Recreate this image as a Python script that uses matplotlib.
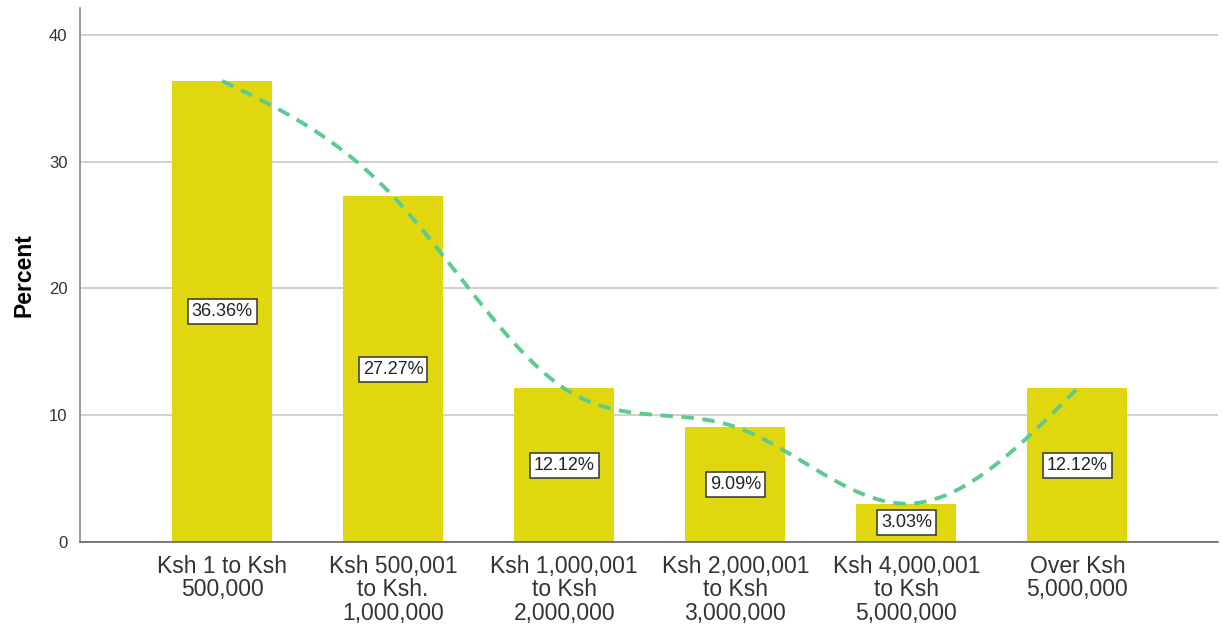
import numpy as np
import matplotlib.pyplot as plt

plt.rcParams['font.family'] = ['Liberation Sans', 'DejaVu Sans']

categories = ['Ksh 1 to Ksh\n500,000',
              'Ksh 500,001\nto Ksh.\n1,000,000',
              'Ksh 1,000,001\nto Ksh\n2,000,000',
              'Ksh 2,000,001\nto Ksh\n3,000,000',
              'Ksh 4,000,001\nto Ksh\n5,000,000',
              'Over Ksh\n5,000,000']
percent = [36.36, 27.27, 12.12, 9.09, 3.03, 12.12]
yticks = [0, 10, 20, 30, 40]

BAR = '#e1d70f'
CURVE = '#5ccb8f'


def natural_spline(x, y, n=300):
    # natural cubic spline through the bar tops
    x = np.asarray(x, float)
    y = np.asarray(y, float)
    k = len(x)
    h = np.diff(x)
    A = np.zeros((k, k))
    b = np.zeros(k)
    A[0, 0] = A[-1, -1] = 1
    for i in range(1, k - 1):
        A[i, i - 1] = h[i - 1]
        A[i, i] = 2 * (h[i - 1] + h[i])
        A[i, i + 1] = h[i]
        b[i] = 6 * ((y[i + 1] - y[i]) / h[i] - (y[i] - y[i - 1]) / h[i - 1])
    M = np.linalg.solve(A, b)
    xs = np.linspace(x[0], x[-1], n)
    idx = np.clip(np.searchsorted(x, xs) - 1, 0, k - 2)
    x0, x1 = x[idx], x[idx + 1]
    hh = x1 - x0
    ys = (M[idx] * (x1 - xs) ** 3 / (6 * hh) + M[idx + 1] * (xs - x0) ** 3 / (6 * hh)
          + (y[idx] / hh - M[idx] * hh / 6) * (x1 - xs)
          + (y[idx + 1] / hh - M[idx + 1] * hh / 6) * (xs - x0))
    return xs, ys


fig = plt.figure(figsize=(12.22, 6.26), dpi=100)
ax = fig.add_axes([0.0655, 0.134, 0.931, 0.853])

pos = np.arange(len(categories))
ax.bar(pos, percent, width=0.585, color=BAR, zorder=2)

xs, ys = natural_spline(pos, percent)
ax.plot(xs, ys, color=CURVE, lw=2.8, dashes=[3.2, 2.2], zorder=3)

for p, v in zip(pos, percent):
    ax.text(p, v / 2, f'{v:.2f}%', ha='center', va='center', fontsize=13,
            color='#222222', zorder=4,
            bbox=dict(boxstyle='square,pad=0.22', fc='white', ec='#333333', lw=1.1))

ax.set_xlim(-0.83, 5.82)
ax.set_ylim(0, 42.1)
ax.set_yticks(yticks)
ax.set_xticks(pos)
ax.set_xticklabels(categories, fontsize=16.5, color='#333333', linespacing=1.03)
ax.tick_params(axis='x', length=0, pad=9)
ax.tick_params(axis='y', length=0, pad=9, labelsize=12, labelcolor='#333333')
ax.yaxis.grid(True, color='#c8c8c8', lw=1.2, zorder=0)
ax.set_axisbelow(True)

for s in ['top', 'right']:
    ax.spines[s].set_visible(False)
ax.spines['left'].set_color('#888888')
ax.spines['bottom'].set_color('#666666')
ax.spines['left'].set_linewidth(1.2)
ax.spines['bottom'].set_linewidth(1.2)

ax.set_ylabel('Percent', fontsize=16.5, fontweight='bold', labelpad=10)

fig.savefig('out.png', dpi=100)
